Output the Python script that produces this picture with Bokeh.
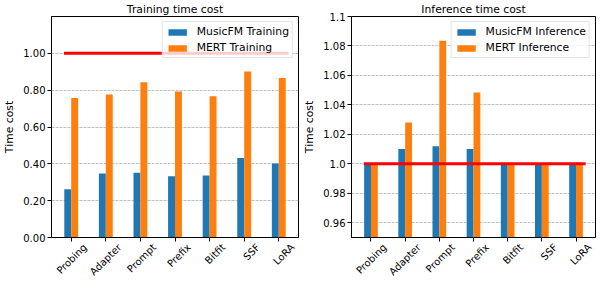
import numpy as np
from bokeh.plotting import figure
from bokeh.layouts import row
from bokeh.models import Range1d, FixedTicker
from bokeh.embed import file_html
from bokeh.resources import INLINE

categories = ["Probing", "Adapter", "Prompt", "Prefix", "Bitfit", "SSF", "LoRA"]
musicfm_training = [0.262, 0.347, 0.352, 0.332, 0.337, 0.432, 0.402]
mert_training = [0.757, 0.777, 0.843, 0.793, 0.767, 0.901, 0.866]
musicfm_inference = [1.0, 1.010, 1.012, 1.010, 1.0, 1.0, 1.0]
mert_inference = [1.0, 1.028, 1.0835, 1.0485, 1.0, 1.0, 1.0]
baseline = 1.0

train_ticks = [0.0, 0.2, 0.4, 0.6, 0.8, 1.0]
train_tick_labels = ["0.00", "0.20", "0.40", "0.60", "0.80", "1.00"]
infer_ticks = [0.96, 0.98, 1.0, 1.02, 1.04, 1.06, 1.08, 1.1]
infer_tick_labels = ["0.96", "0.98", "1.0", "1.02", "1.04", "1.06", "1.08", "1.1"]

FONT = "DejaVu Sans"
FS = "10.8px"      # title, legend, axis label
TICK_FS = "10px"   # tick labels
BLUE = "#1f77b4"
ORANGE = "#ff7f0e"
LABEL_SHIFT = 0.40  # rotated labels are anchored at their end; shift so they sit centred under the bars


def make_panel(title, s1, s2, names, ylim, ticks, tick_labels, width, mbl):
    idx = np.arange(len(categories))
    p = figure(width=width, height=284, output_backend="svg", toolbar_location=None,
               x_range=Range1d(-0.57, len(categories) - 1 + 0.57),
               y_range=Range1d(*ylim),
               min_border_left=mbl, min_border_right=2, min_border_top=0,
               min_border_bottom=0)
    p.title.text = title
    p.title.align = "center"
    p.title.text_font = FONT
    p.title.text_font_size = FS
    p.title.text_font_style = "normal"
    p.title.text_color = "black"
    p.title.standoff = 1

    bw = 0.2
    p.vbar(x=idx - bw / 2, top=s1, bottom=0, width=bw, color=BLUE, line_color=None,
           legend_label=names[0])
    p.vbar(x=idx + bw / 2, top=s2, bottom=0, width=bw, color=ORANGE, line_color=None,
           legend_label=names[1])
    p.line(x=[idx[0] - 0.21, idx[-1] + 0.28], y=[baseline, baseline],
           line_color="red", line_width=3)

    label_pos = [float(i + LABEL_SHIFT) for i in idx]
    p.xaxis.ticker = FixedTicker(ticks=label_pos, minor_ticks=[float(i) for i in idx])
    p.xaxis.major_label_overrides = {lp: c for lp, c in zip(label_pos, categories)}
    p.xaxis.major_label_orientation = np.pi / 4
    p.xaxis.major_label_text_line_height = 0.8
    p.xaxis.major_label_standoff = 4
    p.xaxis.major_tick_out = 0
    p.xaxis.major_tick_in = 0
    p.xaxis.minor_tick_out = 4
    p.xaxis.minor_tick_in = 0
    p.xaxis.minor_tick_line_color = "black"
    p.xaxis.axis_label = None
    p.xaxis.axis_label_standoff = 0

    p.yaxis.ticker = FixedTicker(ticks=ticks)
    p.yaxis.major_label_overrides = {t: l for t, l in zip(ticks, tick_labels)}
    p.yaxis.major_label_standoff = 2
    p.yaxis.major_tick_in = 0
    p.yaxis.major_tick_out = 4
    p.yaxis.minor_tick_line_color = None
    p.yaxis.axis_label = "Time cost"
    p.yaxis.axis_label_standoff = 4
    for ax in (p.xaxis[0], p.yaxis[0]):
        ax.major_label_text_font = FONT
        ax.major_label_text_font_size = TICK_FS
        ax.major_label_text_color = "black"
        ax.axis_label_text_font = FONT
        ax.axis_label_text_font_size = FS
        ax.axis_label_text_font_style = "normal"
        ax.axis_label_text_color = "black"
        ax.axis_line_color = "black"
        ax.major_tick_line_color = "black"

    p.xgrid.grid_line_color = None
    p.ygrid.grid_line_color = "#b0b0b0"
    p.ygrid.grid_line_dash = "3 1"
    p.ygrid.grid_line_width = 0.8
    p.outline_line_color = "black"
    p.outline_line_alpha = 1
    p.outline_line_width = 1

    lg = p.legend[0]
    lg.location = "top_right"
    lg.label_text_font = FONT
    lg.label_text_font_size = FS
    lg.label_text_color = "black"
    lg.glyph_width = 23
    lg.glyph_height = 8
    lg.label_standoff = 8
    lg.spacing = 3
    lg.padding = 3
    lg.margin = 5
    lg.label_height = 13
    lg.border_line_color = "#cccccc"
    lg.background_fill_alpha = 0.8
    return p


p1 = make_panel("Training time cost", musicfm_training, mert_training,
                ["MusicFM Training", "MERT Training"], (0, 1.2),
                train_ticks, train_tick_labels, 300, 42)
p2 = make_panel("Inference time cost", musicfm_inference, mert_inference,
                ["MusicFM Inference", "MERT Inference"], (0.95, 1.1),
                infer_ticks, infer_tick_labels, 297, 47)

layout = row(p1, p2)
open("out.html", "w").write(file_html(layout, INLINE))
